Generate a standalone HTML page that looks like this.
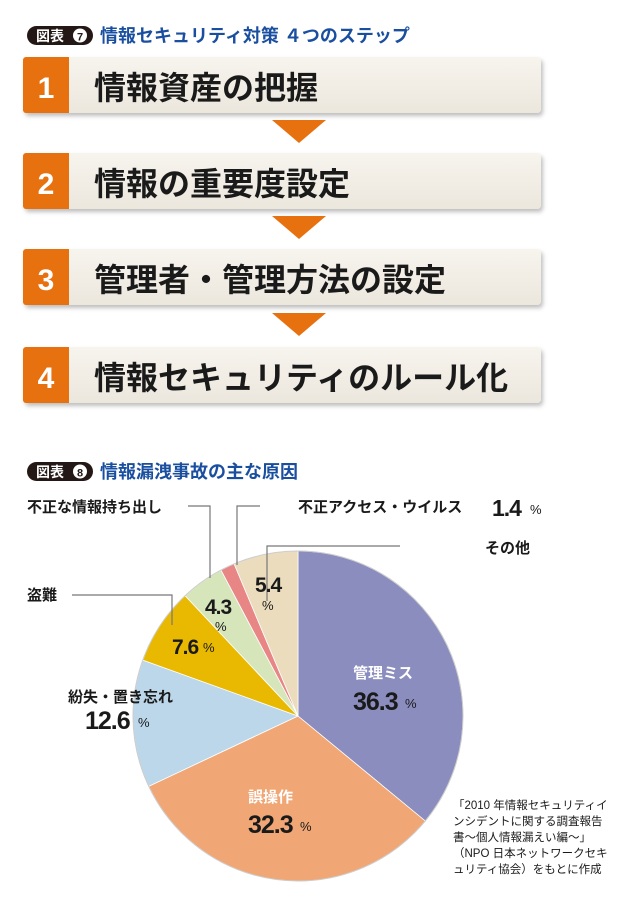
<!DOCTYPE html>
<html><head><meta charset="utf-8"><style>
body{margin:0;background:#fff;}
svg{display:block;font-family:"Liberation Sans","Noto Sans CJK JP",sans-serif;}
</style></head><body>
<svg width="625" height="900" viewBox="0 0 625 900" xmlns="http://www.w3.org/2000/svg">
<defs>
<linearGradient id="bx" x1="0" y1="0" x2="0" y2="1"><stop offset="0" stop-color="#f7f4ee"/><stop offset="1" stop-color="#ece7dd"/></linearGradient>
<filter id="sh" x="-5%" y="-20%" width="110%" height="150%"><feDropShadow dx="2" dy="3" stdDeviation="2" flood-color="#000" flood-opacity="0.25"/></filter>
</defs>
<rect x="27" y="26" width="66" height="19" rx="9.5" fill="#231815"/>
<text x="36" y="41" font-size="14" font-weight="bold" fill="#fff">図表</text>
<circle cx="80" cy="35.5" r="7" fill="#fff"/><text x="80" y="40.5" font-size="11" font-weight="bold" fill="#231815" text-anchor="middle">7</text>
<text x="100" y="42" font-size="18" font-weight="bold" fill="#1a4fa0">情報セキュリティ対策 ４つのステップ</text>
<g font-weight="bold">
<g filter="url(#sh)"><rect x="23" y="57" width="518" height="56" rx="4" fill="url(#bx)"/></g>
<rect x="23" y="57" width="46" height="56" rx="3" fill="#e8710f"/><rect x="50" y="57" width="19" height="56" fill="#e8710f"/>
<text x="46" y="98" font-size="30" fill="#fff" text-anchor="middle">1</text>
<text x="94" y="99" font-size="32" fill="#1a1a1a">情報資産の把握</text>
<polygon points="272,120 326,120 299,143" fill="#e8710f"/>
<g filter="url(#sh)"><rect x="23" y="153" width="518" height="56" rx="4" fill="url(#bx)"/></g>
<rect x="23" y="153" width="46" height="56" rx="3" fill="#e8710f"/><rect x="50" y="153" width="19" height="56" fill="#e8710f"/>
<text x="46" y="194" font-size="30" fill="#fff" text-anchor="middle">2</text>
<text x="94" y="195" font-size="32" fill="#1a1a1a">情報の重要度設定</text>
<polygon points="272,216 326,216 299,239" fill="#e8710f"/>
<g filter="url(#sh)"><rect x="23" y="249" width="518" height="56" rx="4" fill="url(#bx)"/></g>
<rect x="23" y="249" width="46" height="56" rx="3" fill="#e8710f"/><rect x="50" y="249" width="19" height="56" fill="#e8710f"/>
<text x="46" y="290" font-size="30" fill="#fff" text-anchor="middle">3</text>
<text x="94" y="291" font-size="32" fill="#1a1a1a">管理者・管理方法の設定</text>
<polygon points="272,313 326,313 299,336" fill="#e8710f"/>
<g filter="url(#sh)"><rect x="23" y="347" width="518" height="56" rx="4" fill="url(#bx)"/></g>
<rect x="23" y="347" width="46" height="56" rx="3" fill="#e8710f"/><rect x="50" y="347" width="19" height="56" fill="#e8710f"/>
<text x="46" y="388" font-size="30" fill="#fff" text-anchor="middle">4</text>
<text x="94" y="389" font-size="32" fill="#1a1a1a">情報セキュリティのルール化</text>
</g>
<rect x="27" y="462" width="66" height="19" rx="9.5" fill="#231815"/>
<text x="36" y="477" font-size="14" font-weight="bold" fill="#fff">図表</text>
<circle cx="80" cy="471.5" r="7" fill="#fff"/><text x="80" y="476.5" font-size="11" font-weight="bold" fill="#231815" text-anchor="middle">8</text>
<text x="100" y="478" font-size="18" font-weight="bold" fill="#1a4fa0">情報漏洩事故の主な原因</text>
<g stroke="#fff" stroke-width="0.8">
<path d="M298,716 L298,551 A165,165 0 0 1 425.3,821 Z" fill="#8b8dbf"/>
<path d="M298,716 L425.3,821 A165,165 0 0 1 148.7,786.3 Z" fill="#f0a775"/>
<path d="M298,716 L148.7,786.3 A165,165 0 0 1 142.8,660.1 Z" fill="#bcd7ea"/>
<path d="M298,716 L142.8,660.1 A165,165 0 0 1 185.1,595.7 Z" fill="#e8b900"/>
<path d="M298,716 L185.1,595.7 A165,165 0 0 1 221,570 Z" fill="#d6e5ba"/>
<path d="M298,716 L221,570 A165,165 0 0 1 234.1,563.9 Z" fill="#e88585"/>
<path d="M298,716 L234.1,563.9 A165,165 0 0 1 298,551 Z" fill="#eadcbc"/>
</g>
<circle cx="298" cy="716" r="165" fill="none" stroke="#ccc" stroke-width="1"/>
<g stroke="#777" stroke-width="1.2" fill="none">
<polyline points="188,506 210,506 210,578"/>
<polyline points="260,506 237,506 237,565"/>
<polyline points="267,601 267,546 400,546"/>
<polyline points="72,595 172,595 172,625"/>
</g>
<g font-weight="bold" fill="#1a1a1a">
<text x="27" y="512" font-size="15">不正な情報持ち出し</text>
<text x="298" y="512" font-size="15">不正アクセス・ウイルス</text>
<text x="492" y="516" font-size="23" letter-spacing="-1">1.4</text><text x="530" y="514" font-size="13" font-weight="normal">%</text>
<text x="485" y="553" font-size="15">その他</text>
<text x="27" y="600" font-size="15">盗難</text>
<text x="255" y="592" font-size="21" letter-spacing="-1">5.4</text><text x="262" y="610" font-size="13" font-weight="normal">%</text>
<text x="205" y="614" font-size="21" letter-spacing="-1">4.3</text><text x="215" y="631" font-size="13" font-weight="normal">%</text>
<text x="172" y="654" font-size="21" letter-spacing="-1">7.6</text><text x="203" y="652" font-size="13" font-weight="normal">%</text>
<text x="68" y="702" font-size="15">紛失・置き忘れ</text>
<text x="85" y="729" font-size="25" letter-spacing="-1">12.6</text><text x="138" y="727" font-size="13" font-weight="normal">%</text>
<text x="353" y="678" font-size="15" fill="#fff">管理ミス</text>
<text x="353" y="710" font-size="25" letter-spacing="-1">36.3</text><text x="405" y="708" font-size="13" font-weight="normal">%</text>
<text x="248" y="802" font-size="15" fill="#fff">誤操作</text>
<text x="248" y="833" font-size="25" letter-spacing="-1">32.3</text><text x="300" y="831" font-size="13" font-weight="normal">%</text>
</g>
<g font-size="11.5" fill="#1a1a1a">
<text x="453" y="809">「2010 年情報セキュリティイ</text>
<text x="453" y="825">ンシデントに関する調査報告</text>
<text x="453" y="841">書～個人情報漏えい編～」</text>
<text x="453" y="857">（NPO 日本ネットワークセキ</text>
<text x="453" y="873">ュリティ協会）をもとに作成</text>
</g>
</svg>
</body></html>
